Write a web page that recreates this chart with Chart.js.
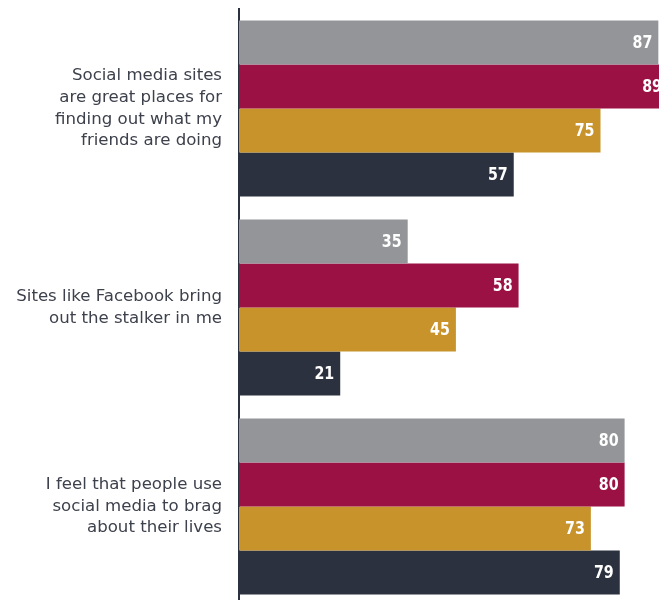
<!DOCTYPE html>
<html>
<head>
<meta charset="utf-8">
<script src="https://cdn.jsdelivr.net/npm/chart.js@4"></script>
<style>
  html, body { margin: 0; padding: 0; background: #ffffff; overflow: hidden; }
  #wrap { width: 721px; height: 606px; }
</style>
</head>
<body>
<div id="wrap"><canvas id="attitudesChart" width="721" height="606"></canvas></div>
<script>
// Survey statements (multi-line labels)
const categories = [
    ['Social media sites', 'are great places for', 'finding out what my', 'friends are doing'],
    ['Sites like Facebook bring', 'out the stalker in me'],
    ['I feel that people use', 'social media to brag', 'about their lives']
];

// Agreement per group, top to bottom within each statement
const seriesGray = [87, 35, 80];
const seriesCrimson = [89, 58, 80];
const seriesGold = [75, 45, 73];
const seriesNavy = [57, 21, 79];

const barColors = ['#939598', '#9b1144', '#c8932a', '#2c3140'];

// Statement text drawn right-aligned next to the axis, centred on each category
const categoryLabels = {
    id: 'categoryLabels',
    afterDraw(chart) {
        const ctx = chart.ctx;
        const yScale = chart.scales.y;
        const lineH = 21.6;
        const xRight = chart.chartArea.left - 17;
        ctx.save();
        ctx.fillStyle = '#3d414c';
        ctx.font = '16.6px "DejaVu Sans", sans-serif';
        ctx.textAlign = 'right';
        ctx.textBaseline = 'middle';
        chart.data.labels.forEach((lines, i) => {
            const cy = yScale.getPixelForTick(i);
            const y0 = cy - (lines.length - 1) * lineH / 2;
            lines.forEach((line, k) => ctx.fillText(line, xRight, y0 + k * lineH));
        });
        ctx.restore();
    }
};

// Writes each bar's value in white just inside its right end
const valueLabels = {
    id: 'valueLabels',
    afterDatasetsDraw(chart) {
        const ctx = chart.ctx;
        const xScale = chart.scales.x;
        chart.data.datasets.forEach((ds, i) => {
            const meta = chart.getDatasetMeta(i);
            meta.data.forEach((bar, j) => {
                const v = ds.data[j];
                ctx.save();
                ctx.translate(xScale.getPixelForValue(v) - 6, bar.y + 1);
                ctx.scale(0.88, 1);
                ctx.fillStyle = '#ffffff';
                ctx.font = 'bold 18px "DejaVu Sans Condensed", sans-serif';
                ctx.textAlign = 'right';
                ctx.textBaseline = 'middle';
                ctx.fillText(String(v), 0, 0);
                ctx.restore();
            });
        });
    }
};

const ctx = document.getElementById('attitudesChart').getContext('2d');
new Chart(ctx, {
    type: 'bar',
    data: {
        labels: categories,
        datasets: [
            { label: 'A', data: seriesGray, backgroundColor: barColors[0] },
            { label: 'B', data: seriesCrimson, backgroundColor: barColors[1] },
            { label: 'C', data: seriesGold, backgroundColor: barColors[2] },
            { label: 'D', data: seriesNavy, backgroundColor: barColors[3] }
        ]
    },
    options: {
        indexAxis: 'y',
        responsive: false,
        animation: false,
        layout: { padding: { top: 9, right: 0, bottom: 0, left: 0 } },
        datasets: {
            bar: {
                categoryPercentage: 0.885,
                barPercentage: 1.0,
                borderWidth: 0
            }
        },
        plugins: {
            legend: { display: false },
            tooltip: { enabled: false }
        },
        scales: {
            x: {
                display: false,
                min: 0,
                max: 100
            },
            y: {
                afterFit(scale) { scale.width = 239; },
                grid: { display: false, drawTicks: false },
                border: { display: true, color: '#2c3140', width: 2 },
                ticks: { display: false }
            }
        }
    },
    plugins: [categoryLabels, valueLabels]
});
</script>
</body>
</html>
